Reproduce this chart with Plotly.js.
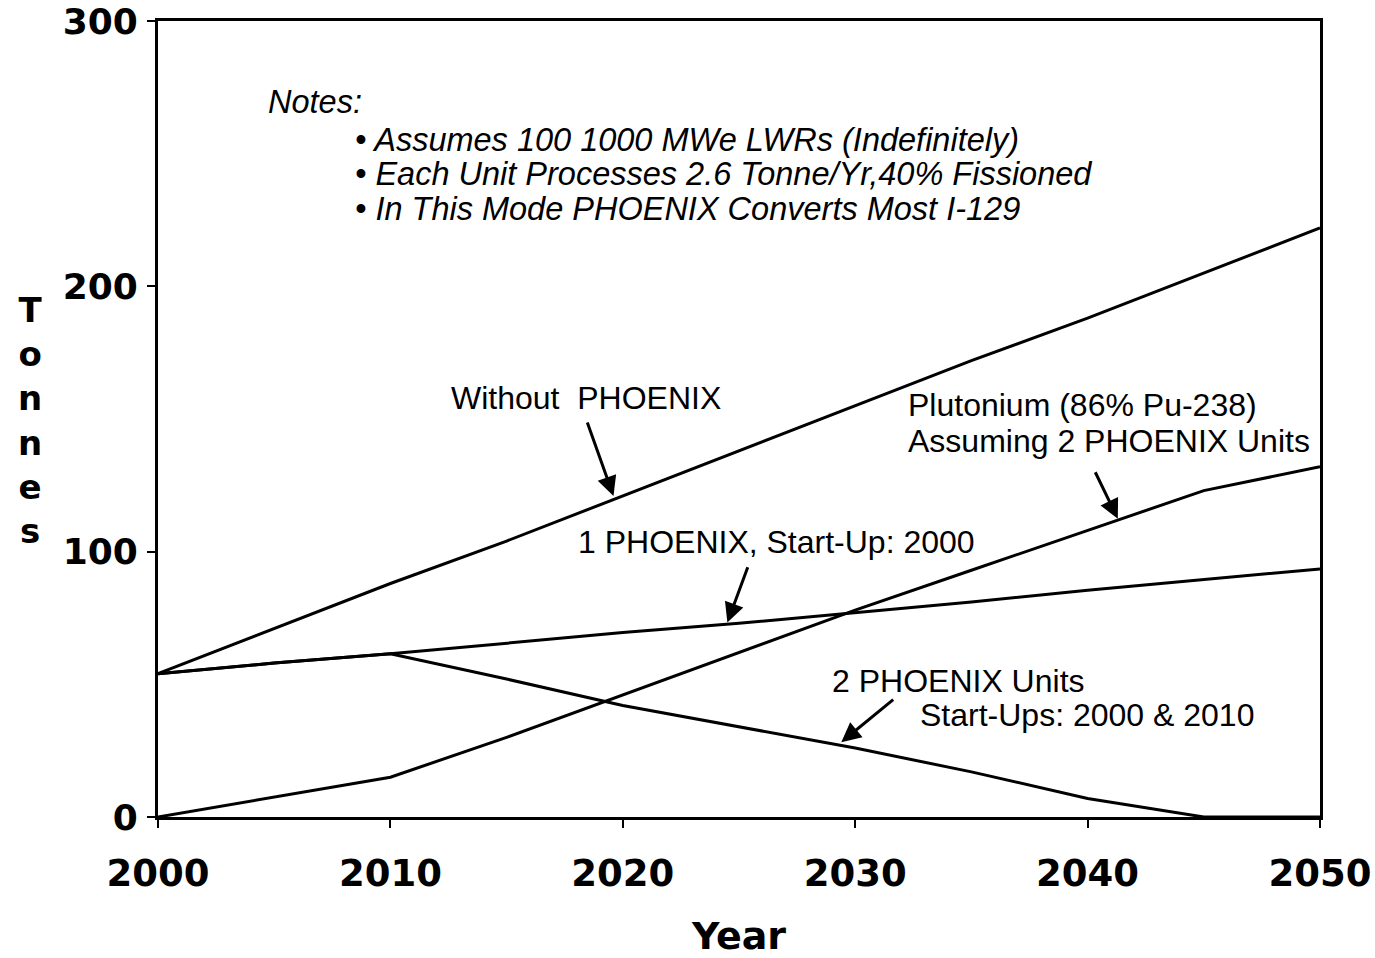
<!DOCTYPE html>
<html>
<head>
<meta charset="utf-8">
<script src="https://cdn.plot.ly/plotly-3.0.1.min.js"></script>
<style>html,body{margin:0;padding:0;background:#fff;}#chart{width:1375px;height:958px;}</style>
</head>
<body>
<div id="chart"></div>
<script>
// ---- data ----
const years = [2000, 2005, 2010, 2015, 2020, 2025, 2030, 2035, 2040, 2045, 2050];
const withoutPhoenix = [54, 71, 88, 104, 121, 138, 155, 172, 188, 205, 222];
const onePhoenix = [54, 58, 61.5, 65.5, 69.5, 73, 77, 81, 85.5, 89.5, 93.5];
const twoPhoenix = [54, 58, 61.5, 52, 42, 34, 26, 17, 7, 0, 0];
const plutonium = [0, 7.5, 15, 30, 46, 62, 78, 93, 108, 123, 132];
const xTicks = [2000, 2010, 2020, 2030, 2040, 2050];
const yTicks = [0, 100, 200, 300];
const yTitleLetters = ["T", "o", "n", "n", "e", "s"];
const notes = ["Notes:",
  "• Assumes 100 1000 MWe LWRs (Indefinitely)",
  "• Each Unit Processes 2.6 Tonne/Yr,40% Fissioned",
  "• In This Mode PHOENIX Converts Most I-129"];

const lineStyle = {color: '#000', width: 3};
const traces = [
  {x: years, y: withoutPhoenix, name: 'Without PHOENIX'},
  {x: years, y: onePhoenix, name: '1 PHOENIX'},
  {x: years, y: twoPhoenix, name: '2 PHOENIX'},
  {x: years, y: plutonium, name: 'Plutonium'}
].map(t => Object.assign(t, {type: 'scatter', mode: 'lines', line: lineStyle, hoverinfo: 'skip'}));

const txtFont = {family: 'Liberation Sans, Arial, sans-serif', size: 32, color: '#000'};
const noteFont = {family: 'Liberation Sans, Arial, sans-serif', size: 32.5, color: '#000', style: 'italic'};

function label(x, y, text, font) {
  return {x: x, y: y, xref: 'x', yref: 'y', text: text, showarrow: false,
    xanchor: 'left', yanchor: 'middle', align: 'left', font: font || txtFont};
}
function arrow(ax, ay, x, y) {
  return {x: x, y: y, ax: ax, ay: ay, xref: 'x', yref: 'y', axref: 'x', ayref: 'y',
    text: '', showarrow: true, arrowhead: 2, arrowsize: 1.3, arrowwidth: 3, arrowcolor: '#000'};
}

const annotations = [
  label(2004.66, 269.5, notes[0], noteFont),
  label(2008.4, 255.3, notes[1], noteFont),
  label(2008.4, 242.5, notes[2], noteFont),
  label(2008.4, 229.3, notes[3], noteFont),
  label(2012.5, 157.9, 'Without  PHOENIX'),
  label(2032.2, 155.3, 'Plutonium (86% Pu-238)'),
  label(2032.2, 141.7, 'Assuming 2 PHOENIX Units'),
  label(2018.0, 103.8, '1 PHOENIX, Start-Up: 2000'),
  label(2028.9, 51.1, '2 PHOENIX Units'),
  label(2032.7, 38.3, 'Start-Ups: 2000 &amp; 2010'),
  arrow(2018.45, 149.2, 2019.6, 121),
  arrow(2040.3, 130.5, 2041.3, 112.4),
  arrow(2025.4, 94.7, 2024.5, 73.3),
  arrow(2031.7, 44.7, 2029.4, 28.2),
  // stacked y-axis title
  {xref: 'paper', yref: 'paper', x: (30 - 158) / 1162, y: (817 - 420) / 796,
    text: '<b>' + yTitleLetters.join('<br>') + '</b>', showarrow: false,
    xanchor: 'center', yanchor: 'middle', align: 'center',
    font: {family: 'DejaVu Sans, sans-serif', size: 34, color: '#000'}}
];

const axisCommon = {
  showline: true, linecolor: '#000', linewidth: 3, mirror: true,
  ticks: 'outside', ticklen: 8, tickwidth: 2, tickcolor: '#000',
  showgrid: false, zeroline: false, ticklabeloverflow: 'allow',
  tickfont: {family: 'DejaVu Sans, sans-serif', size: 36, color: '#000', weight: 'bold'}
};

const layout = {
  width: 1375, height: 958,
  margin: {l: 158, r: 55, t: 21, b: 141},
  paper_bgcolor: '#fff', plot_bgcolor: '#fff',
  showlegend: false,
  xaxis: Object.assign({}, axisCommon, {
    range: [2000, 2050], tickvals: xTicks, ticktext: xTicks.map(String),
    ticklabelstandoff: 14,
    tickfont: {family: 'DejaVu Sans, sans-serif', size: 37, color: '#000', weight: 'bold'},
    title: {text: '<b>Year</b>', standoff: 40, font: {family: 'DejaVu Sans, sans-serif', size: 38, color: '#000'}}
  }),
  yaxis: Object.assign({}, axisCommon, {
    range: [0, 300], tickvals: yTicks, ticktext: yTicks.map(String),
    ticklabelstandoff: 2
  }),
  annotations: annotations
};

Plotly.newPlot('chart', traces, layout, {staticPlot: true, displayModeBar: false});
</script>
</body>
</html>
